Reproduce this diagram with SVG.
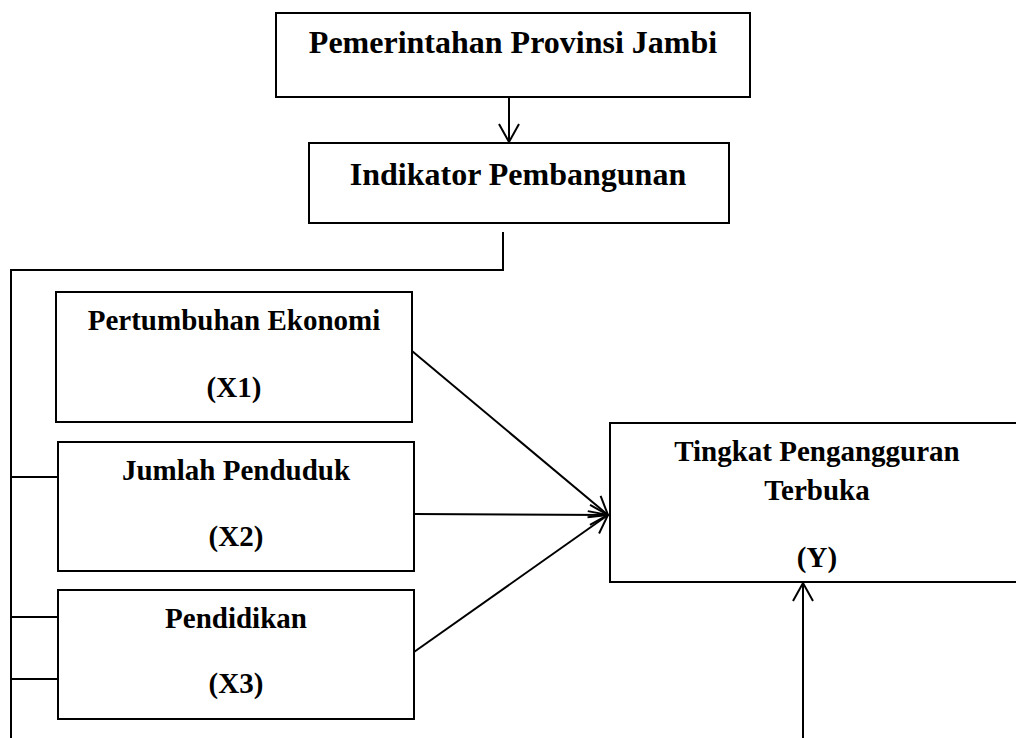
<svg xmlns="http://www.w3.org/2000/svg" width="1016" height="738" viewBox="0 0 1016 738">
<defs>
<style>
.box{fill:#fff;stroke:#000;stroke-width:2}
.ln{fill:none;stroke:#000;stroke-width:2}
text{font-family:'Liberation Serif','Times New Roman',Times,'DejaVu Serif',serif;font-weight:bold;fill:#000;text-anchor:middle}
.big{font-size:32px}
.mid{font-size:29px}
</style>
<marker id="arr" markerUnits="userSpaceOnUse" markerWidth="24" markerHeight="24" viewBox="-20 -12 22 24" refX="0" refY="0" orient="auto">
<path d="M -18 -10 L 0 0 L -18 10" fill="none" stroke="#000" stroke-width="2"/>
</marker>
</defs>
<rect width="1016" height="738" fill="#fff"/>
<g id="connectors">
<line class="ln" x1="509" y1="98" x2="509" y2="142" marker-end="url(#arr)"/>
<polyline class="ln" points="503,232 503,270 10,270"/>
<line class="ln" x1="11" y1="270" x2="11" y2="738"/>
<line class="ln" x1="11" y1="477" x2="58" y2="477"/>
<line class="ln" x1="11" y1="617" x2="58" y2="617"/>
<line class="ln" x1="11" y1="679" x2="58" y2="679"/>
<line class="ln" x1="412" y1="351" x2="608" y2="515" marker-end="url(#arr)"/>
<line class="ln" x1="414" y1="514" x2="608" y2="515" marker-end="url(#arr)"/>
<line class="ln" x1="414" y1="652" x2="608" y2="515" marker-end="url(#arr)"/>
<line class="ln" x1="803" y1="738" x2="803" y2="583" marker-end="url(#arr)"/>
</g>
<g id="pemerintahan">
<rect class="box" x="276" y="13" width="474" height="84"/>
<text class="big" x="513" y="53" font-family="Liberation Serif, serif">Pemerintahan Provinsi Jambi</text>
</g>
<g id="indikator">
<rect class="box" x="309" y="143" width="420" height="80"/>
<text class="big" x="518" y="185" font-family="Liberation Serif, serif">Indikator Pembangunan</text>
</g>
<g id="x1">
<rect class="box" x="56" y="292" width="356" height="130"/>
<text class="mid" x="234" y="330">Pertumbuhan Ekonomi</text>
<text class="mid" x="234" y="397">(X1)</text>
</g>
<g id="x2">
<rect class="box" x="58" y="442" width="356" height="129"/>
<text class="mid" x="236" y="480">Jumlah Penduduk</text>
<text class="mid" x="236" y="546">(X2)</text>
</g>
<g id="x3">
<rect class="box" x="58" y="590" width="356" height="129"/>
<text class="mid" x="236" y="628">Pendidikan</text>
<text class="mid" x="236" y="693">(X3)</text>
</g>
<g id="y">
<rect class="box" x="610" y="423" width="414" height="159"/>
<text class="mid" x="817" y="461">Tingkat Pengangguran</text>
<text class="mid" x="817" y="500">Terbuka</text>
<text class="mid" x="817" y="567">(Y)</text>
</g>
</svg>
